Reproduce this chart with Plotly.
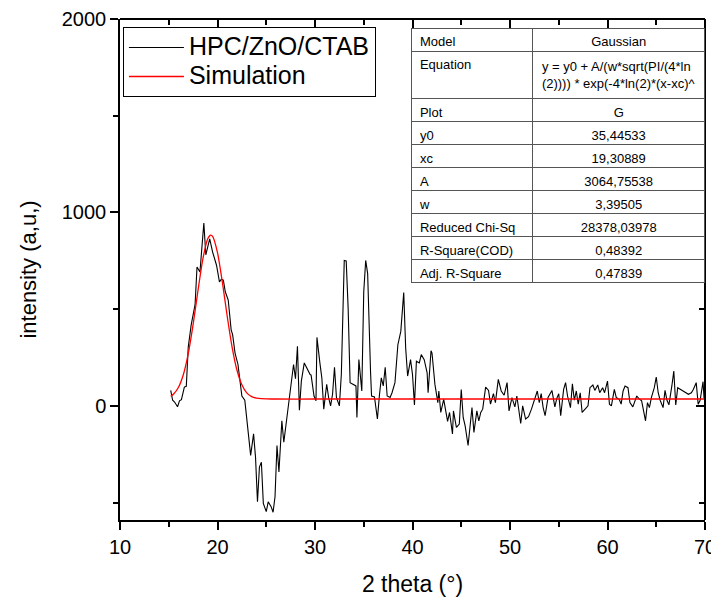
import plotly.graph_objects as go

# Measured pattern (HPC/ZnO/CTAB)
theta_data = [15.2, 15.4, 15.6, 15.9, 16.1, 16.3, 16.6, 16.8, 17.0, 17.3, 17.7, 17.9, 18.2, 18.6, 18.8,
              19.2, 19.5, 19.9, 20.2, 20.4, 20.6, 20.8, 21.1, 21.4, 21.55, 21.8, 22.1, 22.3, 22.5, 22.8,
              22.9, 23.1, 23.3, 23.4, 23.7, 23.9, 24.1, 24.3, 24.5, 24.7, 25.0, 25.2, 25.5, 25.7, 25.9,
              26.1, 26.3, 26.6, 26.8, 27.1, 27.3, 27.5, 27.8, 28.0, 28.2, 28.4, 28.6, 28.9, 29.2, 29.5,
              29.6, 29.9, 30.1, 30.2, 30.5, 30.7, 30.9, 31.2, 31.4, 31.6, 31.8, 32.0, 32.2, 32.5, 32.7,
              33.0, 33.2, 33.4, 33.6, 33.9, 34.2, 34.3, 34.5, 34.8, 35.0, 35.2, 35.4, 35.7, 35.8, 36.1,
              36.4, 36.6, 36.8, 37.0, 37.2, 37.4, 37.7, 37.9, 38.1, 38.2, 38.5, 38.8, 39.1, 39.3, 39.5,
              39.8, 40.0, 40.2, 40.4, 40.7, 40.9, 41.2, 41.5, 41.6, 41.9, 42.0, 42.3, 42.6, 42.7, 42.9,
              43.2, 43.4, 43.6, 43.8, 44.1, 44.2, 44.5, 44.8, 45.0, 45.2, 45.4, 45.7, 45.9, 46.1, 46.3,
              46.6, 46.8, 47.0, 47.2, 47.5, 47.8, 48.0, 48.3, 48.5, 48.8, 49.1, 49.4, 49.7, 49.9, 50.2,
              50.5, 50.7, 51.1, 51.3, 51.6, 51.9, 52.2, 52.5, 52.8, 53.0, 53.2, 53.4, 53.6, 53.9, 54.1,
              54.3, 54.6, 54.8, 55.0, 55.2, 55.5, 55.7, 55.9, 56.2, 56.4, 56.6, 56.8, 57.0, 57.2, 57.4,
              57.7, 58.0, 58.2, 58.5, 58.7, 59.0, 59.2, 59.5, 59.7, 60.0, 60.2, 60.4, 60.7, 60.9, 61.2,
              61.4, 61.6, 61.8, 62.1, 62.3, 62.6, 62.8, 63.0, 63.2, 63.5, 63.9, 64.1, 64.3, 64.5, 64.8,
              65.0, 65.2, 65.4, 65.7, 65.9, 66.1, 66.3, 66.6, 66.8, 67.0, 67.2, 67.5, 67.8, 68.0, 68.3,
              68.6, 68.8, 69.1, 69.3, 69.5, 69.8, 69.9]
intensity_data = [80, 29, 20, -5, 26, 32, 97, 101, 304, 419, 523, 718, 692, 945, 781,
                  863, 795, 727, 641, 655, 650, 590, 547, 393, 368, 273, 214, 145, 51, 29,
                  -17, -111, -205, -256, -145, -265, -496, -316, -291, -504, -547, -496, -521, -550, -470,
                  -205, -342, -77, -188, -60, 0, 100, 214, 140, 308, -22, 128, 222, 188, 162,
                  159, 51, 26, 354, 222, 145, -17, 111, 43, 0, 60, 200, 43, 0, 162,
                  752, 749, 504, 120, 111, 103, -60, 239, 77, 590, 752, 684, 171, 51, 46,
                  -68, 51, 145, 103, 200, 51, 43, 68, 103, 120, 316, 385, 586, 299, 154,
                  239, 162, 5, 231, 222, 265, 239, 171, 68, 285, 273, 111, 17, 77, -34,
                  34, -26, -80, -34, -145, -26, -111, -94, 85, -60, -103, -205, -120, -9, -137,
                  -26, -77, -34, -17, 97, 80, 9, 63, 17, 137, 77, 55, 120, -26, 43,
                  -5, 51, -91, 0, -68, -56, -17, 26, 77, 17, 63, -9, -51, 43, 60,
                  80, -5, 39, 63, -51, 85, 120, 51, -9, 114, 29, 77, 9, 68, -34,
                  -17, 0, 94, 108, 80, 108, 68, 94, 68, 128, 9, 0, 85, 43, 34,
                  9, 77, 103, 94, 17, -5, 29, 51, 39, 26, -77, 17, -9, 43, 94,
                  149, 68, 29, -9, 80, 29, 5, 103, 180, 5, 94, 85, 77, 68, 60,
                  68, 85, 120, 9, 29, 125, 40]

# Simulation curve
theta_sim = [15.2, 15.5, 16.0, 16.5, 17.0, 17.5, 18.0, 18.5, 19.0, 19.3, 19.5, 20.0, 20.5, 21.0,
             21.5, 22.0, 22.5, 23.0, 23.5, 24.0, 24.5, 25.0, 26.0, 30.0, 40.0, 50.0, 60.0, 70.0]
intensity_sim = [50, 61, 96, 162, 270, 421, 597, 760, 864, 883, 876, 792, 639, 462,
                 303, 184, 109, 67, 48, 40, 37, 36, 35.5, 35.4, 35.4, 35.4, 35.4, 35.4]

# Fit results table
table_params = ["Equation", "Plot", "y0", "xc", "A", "w", "Reduced Chi-Sq", "R-Square(COD)", "Adj. R-Square"]
table_values = ["y = y0 + A/(w*sqrt(PI/(4*ln<br>(2)))) * exp(-4*ln(2)*(x-xc)^", "G", "35,44533", "19,30889",
                "3064,75538", "3,39505", "28378,03978", "0,48392", "0,47839"]

FONT = "Liberation Sans, Arial, sans-serif"

fig = go.Figure()
fig.add_trace(go.Scatter(x=theta_data, y=intensity_data, mode="lines",
                         name='<span style="font-size:25px">HPC/ZnO/CTAB</span>',
                         line=dict(color="black", width=1.1)))
fig.add_trace(go.Scatter(x=theta_sim, y=intensity_sim, mode="lines",
                         name='<span style="font-size:25px">Simulation</span>',
                         line=dict(color="#ff0000", width=1.3, shape="spline", smoothing=0.6)))
# invisible trace to activate mirrored (inside-tick) axes
fig.add_trace(go.Scatter(x=[], y=[], xaxis="x2", yaxis="y2", showlegend=False, hoverinfo="skip"))

fig.add_trace(go.Table(
    domain=dict(x=[0.499, 1.0], y=[0.3, 0.982]),
    columnwidth=[121, 173],
    header=dict(values=["Model", "Gaussian"], align=["left", "center"], height=23,
                fill_color="white", line=dict(color="#555555", width=1),
                font=dict(family=FONT, size=13, color="black")),
    cells=dict(values=[table_params, table_values], align=["left", "center"], height=23,
               fill_color="white", line=dict(color="#555555", width=1),
               font=dict(family=FONT, size=13, color="black")),
))

axis_common = dict(showline=True, linecolor="black", linewidth=1.5, showgrid=False, zeroline=False,
                   tickcolor="black", tickwidth=1.5, automargin=False)

fig.update_layout(
    width=719, height=605,
    margin=dict(l=112, r=22, t=11, b=93),
    paper_bgcolor="white", plot_bgcolor="white",
    font=dict(family=FONT, color="black"),
    xaxis=dict(range=[10, 70], dtick=10, ticks="outside", ticklen=8, ticklabeloverflow="allow",
               minor=dict(dtick=5, ticks="outside", ticklen=5, tickcolor="black", tickwidth=1.5),
               tickfont=dict(size=20),
               title=dict(text="2 theta (°)", font=dict(size=23), standoff=19), **axis_common),
    yaxis=dict(range=[-590, 2000], dtick=1000, ticks="outside", ticklen=8, ticklabeloverflow="allow",
               minor=dict(dtick=500, ticks="outside", ticklen=5, tickcolor="black", tickwidth=1.5),
               tickfont=dict(size=20),
               title=dict(text="intensity (a,u,)", font=dict(size=22), standoff=19), **axis_common),
    xaxis2=dict(range=[10, 70], dtick=10, overlaying="x", side="top", anchor="free", position=1,
                ticks="inside", ticklen=8, showticklabels=False,
                minor=dict(dtick=5, ticks="inside", ticklen=5, tickcolor="black", tickwidth=1.5),
                **axis_common),
    yaxis2=dict(range=[-590, 2000], dtick=1000, overlaying="y", side="right", anchor="free", position=1,
                ticks="inside", ticklen=8, showticklabels=False,
                minor=dict(dtick=500, ticks="inside", ticklen=5, tickcolor="black", tickwidth=1.5),
                **axis_common),
    legend=dict(x=0.005, y=0.984, xanchor="left", yanchor="top", bgcolor="white", itemwidth=55,
                bordercolor="black", borderwidth=1, font=dict(size=20), tracegroupgap=0),
)

fig.write_html("out.html")
